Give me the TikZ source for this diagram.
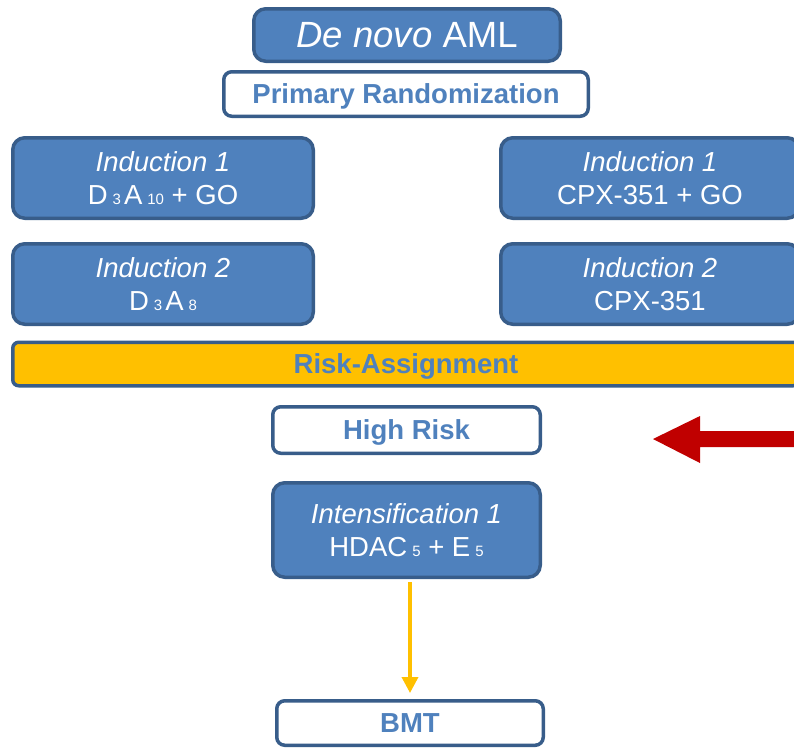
\documentclass[tikz,border=0pt]{standalone}
\usepackage{fontspec}
\setmainfont{Liberation Sans}
\usetikzlibrary{arrows.meta}
\definecolor{boxfill}{HTML}{4F81BD}
\definecolor{boxline}{HTML}{385D8A}
\definecolor{riskfill}{HTML}{FFC000}
\definecolor{redarrow}{HTML}{C00000}
\newcommand{\sbs}[1]{{\fontsize{15}{15}\selectfont #1}}
\tikzset{
  bluebox/.style={draw=boxline, fill=boxfill, line width=3.5pt, rounded corners=12pt,
    text=white, align=center, inner sep=0pt, font=\fontsize{27.5}{33}\selectfont},
  whitebox/.style={draw=boxline, fill=white, line width=3.5pt, rounded corners=8pt,
    text=boxfill, align=center, inner sep=0pt, text depth=0pt, font=\fontsize{27.5}{33}\selectfont\bfseries},
  sz/.style 2 args={minimum width=#1pt-3.5pt, minimum height=#2pt-3.5pt}
}
\begin{document}
\begin{tikzpicture}[x=1pt,y=-1pt]
\useasboundingbox (0,0) rectangle (794,748);
\clip (0,0) rectangle (794,748);
\node[bluebox, sz={310}{56}, font=\fontsize{36.5}{40}\selectfont] (denovo) at (407,35) {\textit{De novo} AML};
\node[whitebox, sz={368}{48}] (primary) at (406,94) {Primary Randomization};
\node[bluebox, sz={304}{84}] (ind1L) at (163,178) {\textit{Induction 1}\\D\hspace{5pt}\sbs{3}\hspace{3pt}A\hspace{5pt}\sbs{10} + GO};
\node[bluebox, sz={302}{84}] (ind1R) at (650,178) {\textit{Induction 1}\\CPX-351 + GO};
\node[bluebox, sz={304}{84}] (ind2L) at (163,284) {\textit{Induction 2}\\D\hspace{5pt}\sbs{3}\hspace{3pt}A\hspace{5pt}\sbs{8}};
\node[bluebox, sz={302}{84}] (ind2R) at (650,284) {\textit{Induction 2}\\CPX-351};
\node[whitebox, fill=riskfill, rounded corners=6pt, sz={790}{47}] (risk) at (406,364) {Risk-Assignment};
\node[whitebox, sz={271}{50}] (high) at (406.5,430) {High Risk};
\node[bluebox, sz={271}{98}] (intens) at (406.5,530) {\textit{Intensification 1}\\HDAC\hspace{5pt}\sbs{5} + E\hspace{5pt}\sbs{5}};
\node[whitebox, sz={270}{48}] (bmt) at (410,723) {BMT};
\fill[redarrow] (800,431) -- (700,431) -- (700,416) -- (653,439) -- (700,463) -- (700,447) -- (800,447) -- cycle;
\draw[riskfill, line width=3.5pt, shorten <=3pt, shorten >=6pt, -{Triangle[length=16pt,width=16pt]}] (bmt.north |- intens.south) -- (bmt.north);
\end{tikzpicture}
\end{document}
